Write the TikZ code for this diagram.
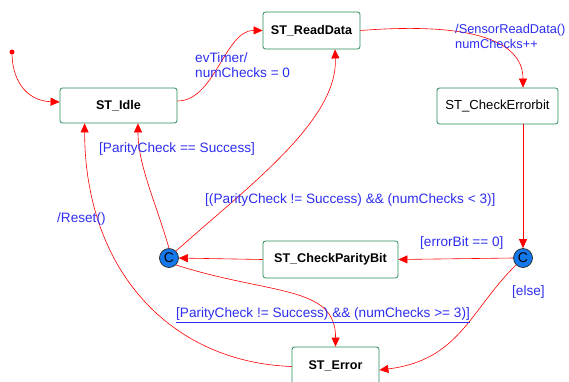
\documentclass[tikz,border=0pt]{standalone}
\usepackage{fontspec}
\setmainfont{Liberation Sans}
\usetikzlibrary{arrows.meta,calc}

\definecolor{stategreen}{RGB}{40,140,90}
\definecolor{choiceblue}{RGB}{20,120,235}
\definecolor{lblblue}{RGB}{45,45,240}

\begin{document}
\begin{tikzpicture}[x=1pt,y=-1pt,
  statebox/.style={draw=stategreen, line width=0.8pt, rounded corners=2.5pt, fill=white,
    inner sep=0pt, font=\fontsize{12.6}{14}\selectfont\bfseries},
  choice/.style={circle, draw=black!85, line width=0.7pt, fill=choiceblue, minimum size=19pt,
    inner sep=0pt, font=\fontsize{14}{14}\selectfont},
  lbl/.style={text=lblblue, inner sep=0pt, anchor=west, align=left,
    font=\fontsize{13.6}{15}\selectfont},
  trans/.style={draw=red, line width=0.6pt, -{Triangle[length=9pt,width=8pt]}}
]
\useasboundingbox (0,0) rectangle (569,381);

% states
\node[statebox, minimum width=117pt, minimum height=35pt] (idle) at (118.5,105.5) {ST\_Idle};
\node[statebox, minimum width=97pt, minimum height=37pt] (read) at (311.5,30.5) {ST\_ReadData};
\node[statebox, minimum width=121pt, minimum height=36pt, font=\fontsize{13.1}{14}\selectfont] (chk) at (497.5,106) {ST\_CheckErrorbit};
\node[statebox, minimum width=135pt, minimum height=37pt] (par) at (330.5,259.5) {ST\_CheckParityBit};
\node[statebox, minimum width=87pt, minimum height=37pt] (err) at (335.5,365.5) {ST\_Error};

% choice points
\node[choice] (cl) at (169,258) {C};
\node[choice] (cr) at (523,258) {C};

% initial pseudo-state
\node[circle, fill=red, minimum size=5pt, inner sep=0pt] (init) at (12,52) {};

% transitions
\draw[trans] (init.south) .. controls (13,85) and (30,101) .. ($(idle.west)+(0,-3.5)$);
\draw[trans] ($(idle.east)+(0,-4.5)$) .. controls (215,101) and (225,30) .. (read.west);
\draw[trans] (read.east) .. controls (470,22) and (523,40) .. ($(chk.north)+(25.5,0)$);
\draw[trans] ($(chk.south)+(25.5,0)$) -- (cr.north);
\draw[trans] (cr.west) -- (par.east);
\draw[trans] (par.west) -- (cl.east);
\draw[trans] (cl.north) .. controls (155,200) and (138,165) .. ($(idle.south)+(19.5,0)$);
\draw[trans] (cl.north east) .. controls (250,185) and (338,120) .. ($(read.south)+(23.5,0)$);
\draw[trans] (cl.south east) .. controls (270,295) and (336,285) .. (err.north);
\draw[trans] (cr.south west) .. controls (470,310) and (460,360) .. ($(err.east)+(0,4.5)$);
\draw[trans] ($(err.west)+(0,1)$) .. controls (170,362) and (85,270) .. ($(idle.south west)+(25,0)$);

% transition labels
\node[lbl] (l1) at (195,65) {evTimer/\\numChecks = 0};
\node[lbl, font=\fontsize{12.8}{15}\selectfont] (l2) at (455,36) {/SensorReadData()\\numChecks++};
\node[lbl] (l3) at (99,149) {[ParityCheck == Success]};
\node[lbl] (l4) at (205,200) {[(ParityCheck != Success) \&\& (numChecks < 3)]};
\node[lbl] (l5) at (57,219) {/Reset()};
\node[lbl] (l6) at (420,243) {[errorBit == 0]};
\node[lbl] (l7) at (512,292) {[else]};
\node[lbl] (l8) at (176,315) {\underline{[ParityCheck != Success) \&\& (numChecks >= 3)]}};
\end{tikzpicture}
\end{document}
